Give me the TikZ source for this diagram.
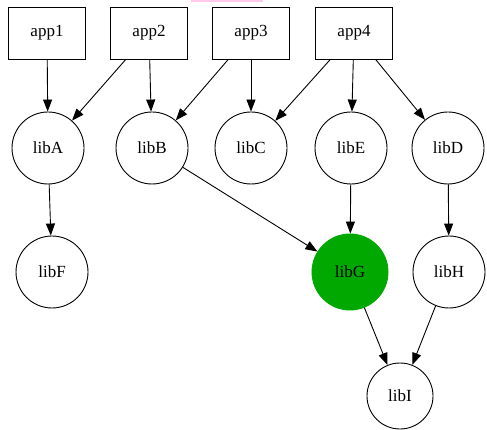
\documentclass[tikz,border=0pt]{standalone}
\usepackage{fontspec}
\setmainfont{Liberation Serif}
\usepackage{xcolor}
\usepackage{tikz}
\usetikzlibrary{shapes.geometric, arrows}
\usetikzlibrary{arrows.meta}
\definecolor{libgreen}{HTML}{00A800}
\definecolor{tabpink}{HTML}{FFC8EC}
\tikzstyle{app} = [rectangle, minimum width=77pt, minimum height=52pt, text centered, draw=black, line width=0.9pt, font=\fontsize{17}{19}\selectfont]
\tikzstyle{lib} = [circle, minimum size=72pt, inner sep=0pt, text centered, draw=black, line width=0.9pt, font=\fontsize{17}{19}\selectfont]
\tikzstyle{arrow} = [line width=0.9pt,-{Triangle[length=12pt,width=9pt]}]

\begin{document}
\begin{tikzpicture}[x=1pt, y=-1pt]
                        \useasboundingbox (0,0) rectangle (487,430);
                        \fill[tabpink] (191,0) rectangle (263,2);

                        \node (app1) [app] at (47,33) {app1};
                        \node (app2) [app] at (149,33) {app2};
                        \node (app3) [app] at (251,33) {app3};
                        \node (app4) [app] at (354,33) {app4};

                        \node (libA) [lib] at (48,148) {libA};
                        \node (libB) [lib] at (152,148) {libB};
                        \node (libC) [lib] at (251,148) {libC};
                        \node (libE) [lib] at (351,148) {libE};
                        \node (libD) [lib] at (448,148) {libD};

                        \node (libF) [lib] at (52,272) {libF};
                        \node (libG) [lib, fill=libgreen, draw=libgreen, minimum size=76pt] at (350,272) {libG};
                        \node (libH) [lib] at (449,272) {libH};

                        \node (libI) [lib, minimum size=66pt] at (400,396) {libI};

                        \draw[arrow] (app1) -- (libA);
                        \draw[arrow] (app2) -- (libA);
                        \draw[arrow] (app2) -- (libB);
                        \draw[arrow] (app3) -- (libB);
                        \draw[arrow] (app3) -- (libC);
                        \draw[arrow] (app4) -- (libC);
                        \draw[arrow] (app4) -- (libE);
                        \draw[arrow] (app4) -- (libD);

                        \draw[arrow] (libA) -- (libF);
                        \draw[arrow] (libB) -- (libG);
                        \draw[arrow] (libE) -- (libG);
                        \draw[arrow] (libD) -- (libH);

                        \draw[arrow] (libG) -- (libI);
                        \draw[arrow] (libH) -- (libI);

                    \end{tikzpicture}
\end{document}
